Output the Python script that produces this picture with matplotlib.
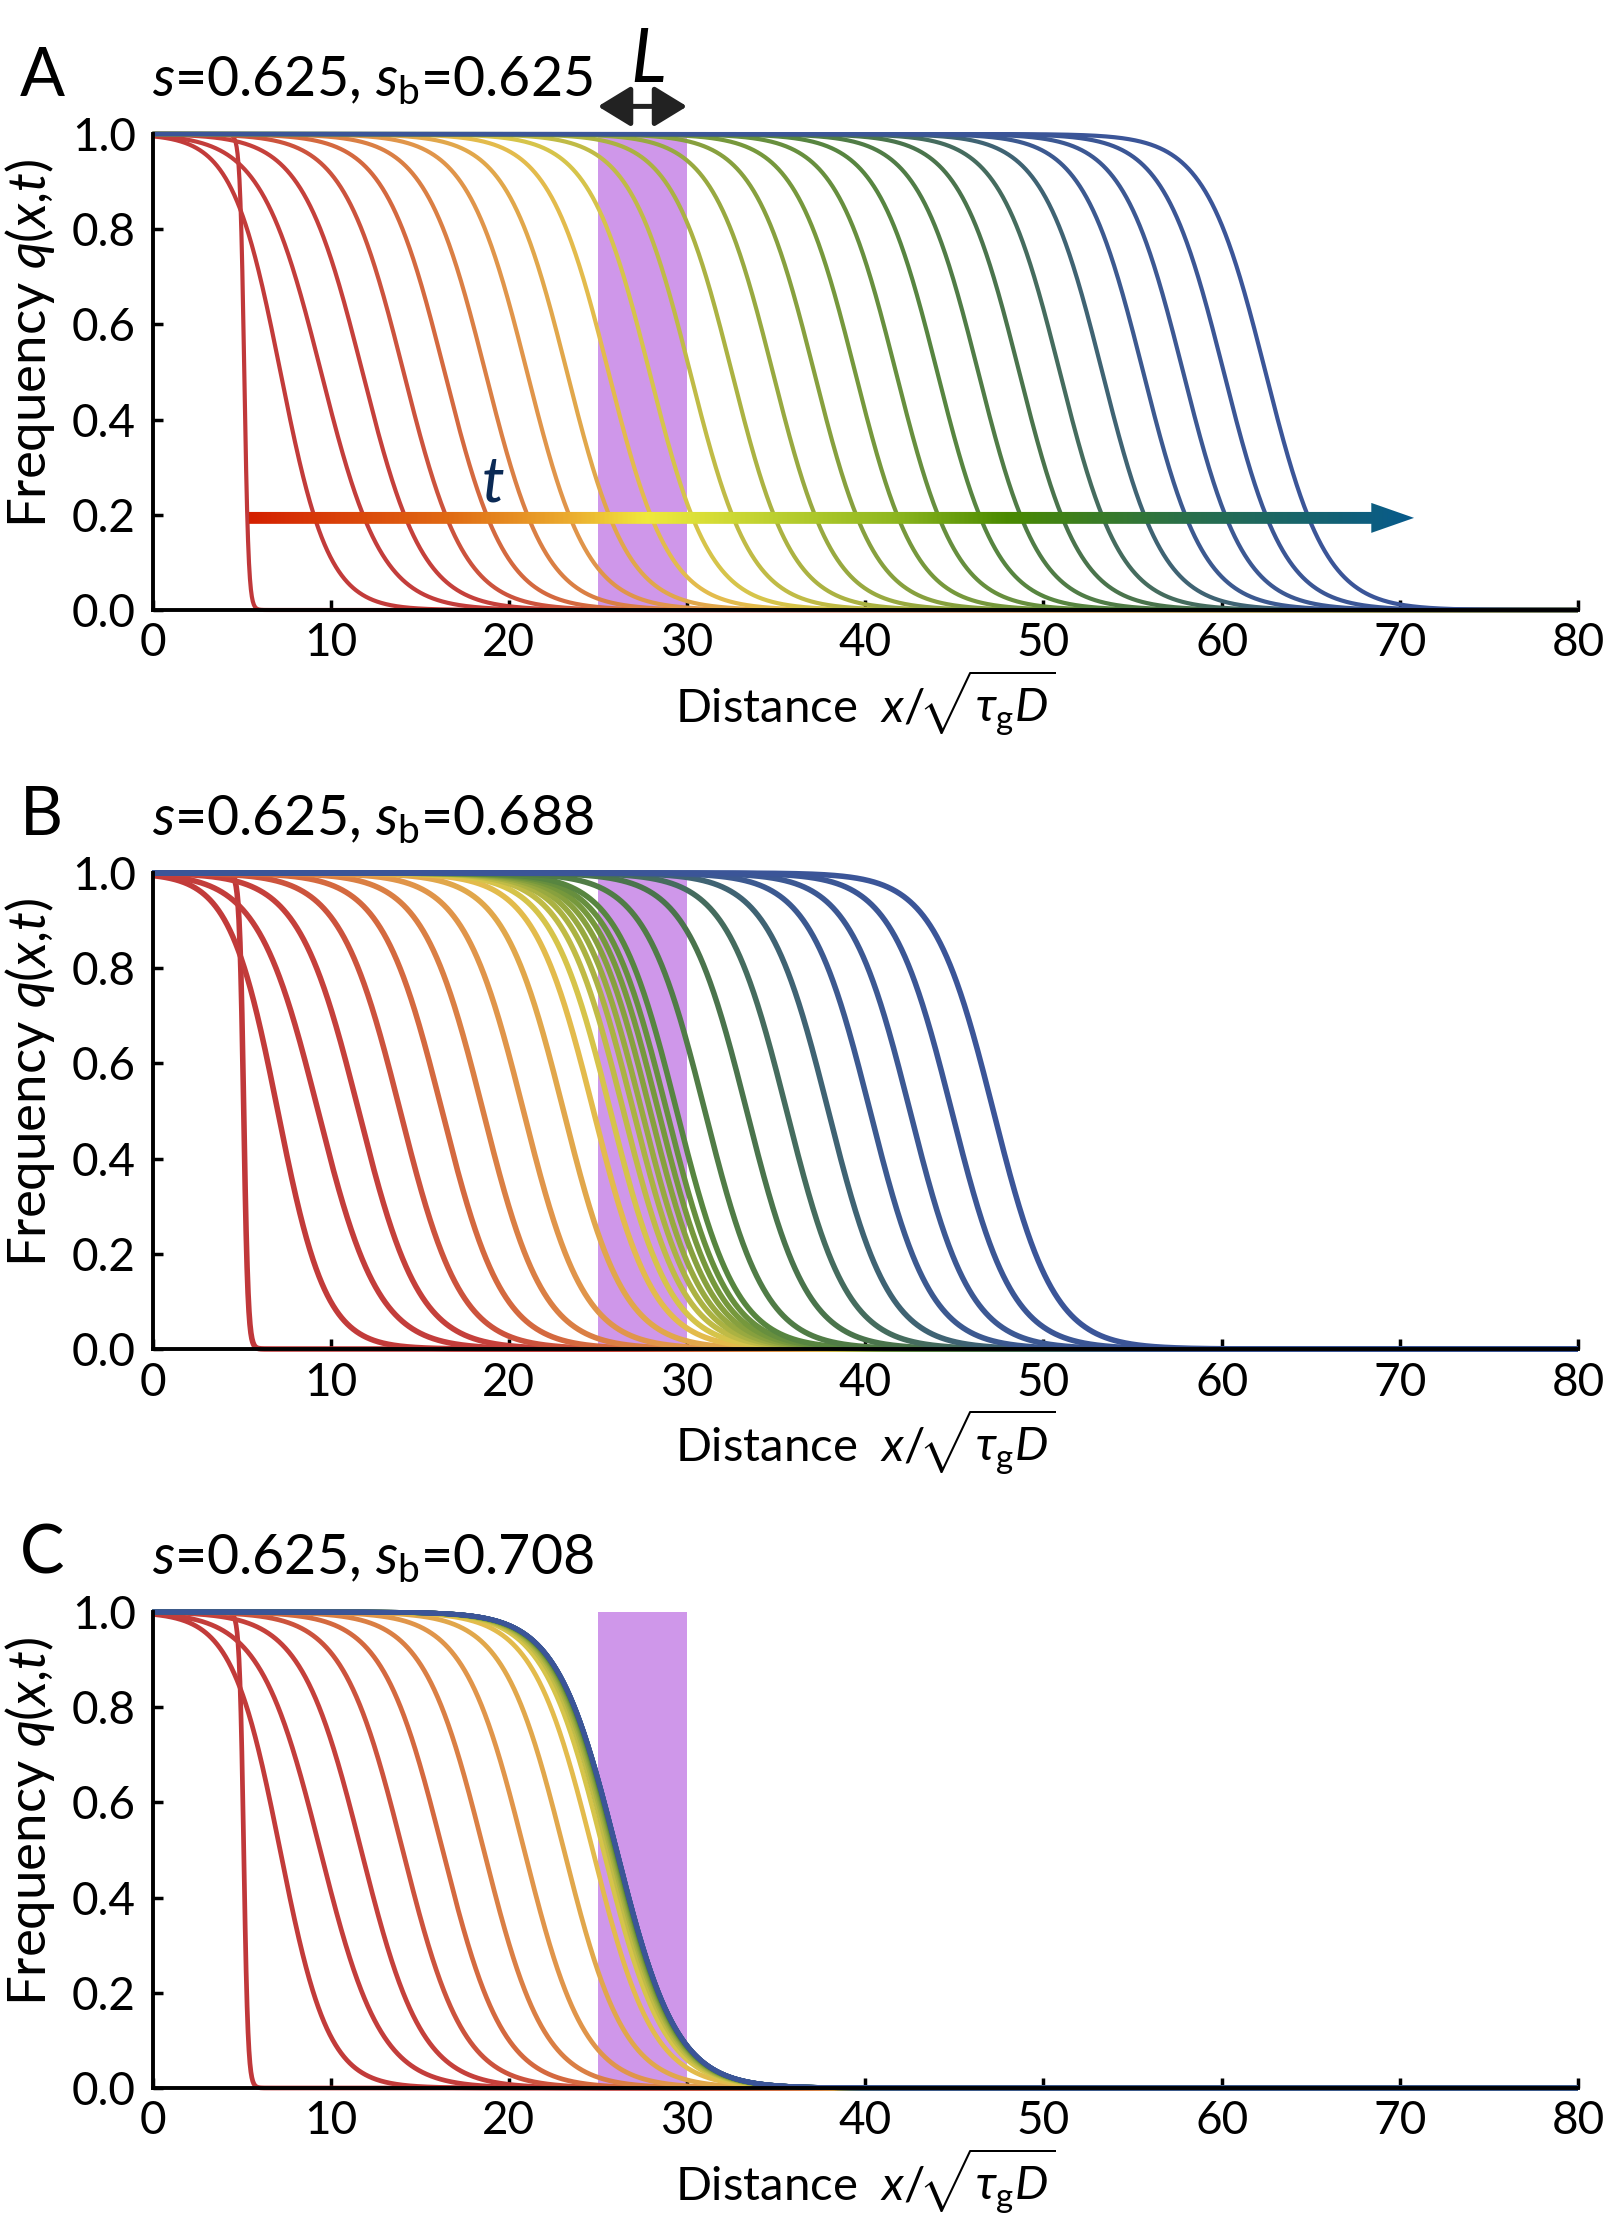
import numpy as np
import matplotlib
matplotlib.use("Agg")
import matplotlib.pyplot as plt
from matplotlib.colors import LinearSegmentedColormap
from matplotlib.patches import Polygon
from matplotlib.patches import ArrowStyle

# ---------------- data ----------------
x_ticks = [0, 10, 20, 30, 40, 50, 60, 70, 80]
y_ticks = [0.0, 0.2, 0.4, 0.6, 0.8, 1.0]
panel_letters = ["A", "B", "C"]
s_values = ["0.625", "0.625", "0.625"]
sb_values = ["0.625", "0.688", "0.708"]
patch_start = 25.0
patch_end = 30.0

# front positions (q = 0.5) of successive time snapshots
centers_A = [5.15, 7.18, 9.46, 11.78, 14.09, 16.39, 18.68, 21.02, 23.26, 25.59,
             27.89, 30.17, 32.51, 34.81, 37.13, 39.43, 41.72, 44.04, 46.34, 48.64,
             50.92, 53.30, 55.60, 57.84, 60.12, 62.46]
centers_B = [5.12, 7.03, 9.29, 11.57, 13.90, 16.25, 18.55, 20.82, 23.07, 24.75,
             25.70, 26.43, 26.99, 27.46, 27.93, 28.39, 28.86, 29.42, 31.00, 33.35,
             35.59, 37.93, 40.27, 42.51, 44.85, 47.19]
centers_C = [5.12, 7.16, 9.41, 11.71, 14.04, 16.28, 18.59, 20.86, 23.09, 24.70,
             25.30, 25.55, 25.70, 25.80, 25.87, 25.92, 25.96, 25.99, 26.01, 26.02,
             26.03, 26.04, 26.04, 26.05, 26.05, 26.05]
# front widths of the snapshots (first is the initial step)
widths = [0.12, 1.35] + [1.7] * 24

# ---------------- style ----------------
plt.rcParams["font.family"] = ["Lato", "DejaVu Sans"]
plt.rcParams["mathtext.fontset"] = "custom"
plt.rcParams["mathtext.rm"] = "Lato"
plt.rcParams["mathtext.it"] = "Lato:italic"
plt.rcParams["mathtext.bf"] = "Lato:bold"
plt.rcParams["mathtext.sf"] = "Lato"

curve_cmap = LinearSegmentedColormap.from_list("curves", [
    (0.00, "#c0383a"), (0.12, "#c5403b"), (0.20, "#d4693f"), (0.28, "#e0964a"),
    (0.36, "#e3bb4c"), (0.40, "#d6c44a"), (0.48, "#aab242"), (0.60, "#76983c"),
    (0.68, "#578540"), (0.76, "#4a744c"), (0.84, "#3f6470"), (0.88, "#3c5990"),
    (1.00, "#3b5598")])
arrow_cmap = LinearSegmentedColormap.from_list("arrow", [
    (0.00, "#d42000"), (0.17, "#e06a14"), (0.28, "#ecb030"), (0.34, "#f0ea3c"),
    (0.45, "#bcd030"), (0.55, "#90b820"), (0.65, "#4a8a00"), (0.80, "#2a7048"),
    (1.00, "#075a8c")])
patch_color = "#cf97ea"

W, H = 1613, 2215
fig = plt.figure(figsize=(W / 100, H / 100), dpi=100)

ax_left_px, ax_right_px = 152.5, 1578.0
ax_tops_px = [134, 873, 1612]
ax_h_px = 476
ax_w_px = ax_right_px - ax_left_px
line_widths = [3.0, 4.0, 3.4]
all_centers = [centers_A, centers_B, centers_C]

xg = np.linspace(0, 80, 3000)
n = len(centers_A)

axes = []
for k in range(3):
    top = ax_tops_px[k]
    rect = [ax_left_px / W, 1 - (top + ax_h_px) / H, ax_w_px / W, ax_h_px / H]
    ax = fig.add_axes(rect)
    axes.append(ax)
    ax.axvspan(patch_start, patch_end, ymin=0, ymax=1, color=patch_color, lw=0, zorder=1)
    for i, (c, w) in enumerate(zip(all_centers[k], widths)):
        q = 1.0 / (1.0 + np.exp((xg - c) / w))
        ax.plot(xg, q, color=curve_cmap(i / (n - 1)), lw=line_widths[k],
                zorder=2 + i * 0.01, clip_on=False, solid_capstyle="butt")
    ax.set_xlim(0, 80)
    ax.set_ylim(0, 1)
    ax.set_xticks(x_ticks)
    ax.set_xticklabels([str(t) for t in x_ticks])
    ax.set_yticks(y_ticks)
    ax.set_yticklabels([f"{t:.1f}" for t in y_ticks])
    for side in ["top", "right"]:
        ax.spines[side].set_visible(False)
    for side in ["left", "bottom"]:
        ax.spines[side].set_linewidth(2.8)
        ax.spines[side].set_color("black")
        ax.spines[side].set_zorder(5)
    ax.tick_params(direction="in", length=7, width=2.5, labelsize=33, pad=9,
                   colors="black")
    ax.tick_params(axis="y", pad=12)
    ax.text(0.5, -93 / ax_h_px, r"Distance  $x/\!\sqrt{\tau_{\mathrm{g}}D}$",
            transform=ax.transAxes, ha="center", va="center", fontsize=34)
    ax.text(-122 / ax_w_px, 0.56, r"Frequency $q$($x$,$t$)",
            transform=ax.transAxes, ha="center", va="center", fontsize=38,
            rotation=90)
    ax.text(-133 / ax_w_px, 1 + 38 / ax_h_px, panel_letters[k],
            transform=ax.transAxes, ha="left", va="baseline", fontsize=48)
    ax.text(0.0, 1 + 38 / ax_h_px,
            r"$s$=" + s_values[k] + r", $s_{\mathrm{b}}$=" + sb_values[k],
            transform=ax.transAxes, ha="left", va="baseline", fontsize=40)

# gradient time arrow in panel A
axA = axes[0]
x0a, x1a, xh = 5.4, 70.8, 68.4
ya, half_shaft, half_head = 0.1935, 0.0125, 0.0315
verts = [(x0a, ya - half_shaft), (xh, ya - half_shaft), (xh, ya - half_head),
         (x1a, ya), (xh, ya + half_head), (xh, ya + half_shaft), (x0a, ya + half_shaft)]
poly = Polygon(verts, closed=True, transform=axA.transData, facecolor="none",
               edgecolor="none")
axA.add_patch(poly)
grad = np.linspace(0, 1, 512).reshape(1, -1)
im = axA.imshow(grad, cmap=arrow_cmap, aspect="auto",
                extent=[x0a, x1a, ya - half_head, ya + half_head],
                zorder=10, interpolation="bilinear")
im.set_clip_path(poly)
axA.set_xlim(0, 80)
axA.set_ylim(0, 1)
axA.text(19.1, 0.265, r"$t$", color="#0b2a55", fontsize=46, ha="center",
         va="center", zorder=11)

# double arrow marking L
axA.annotate("", xy=(patch_start, 1.058), xytext=(patch_end, 1.058),
             xycoords="data", textcoords="data", annotation_clip=False,
             arrowprops=dict(arrowstyle=ArrowStyle("<|-|>", head_length=0.72,
                                                   head_width=0.44),
                             mutation_scale=28, lw=3.6, color="#222222",
                             shrinkA=0, shrinkB=0))
axA.text(27.8, 1.11, "L", fontsize=54, style="italic",
         ha="center", va="baseline", clip_on=False)

fig.savefig("out.png", dpi=100)
